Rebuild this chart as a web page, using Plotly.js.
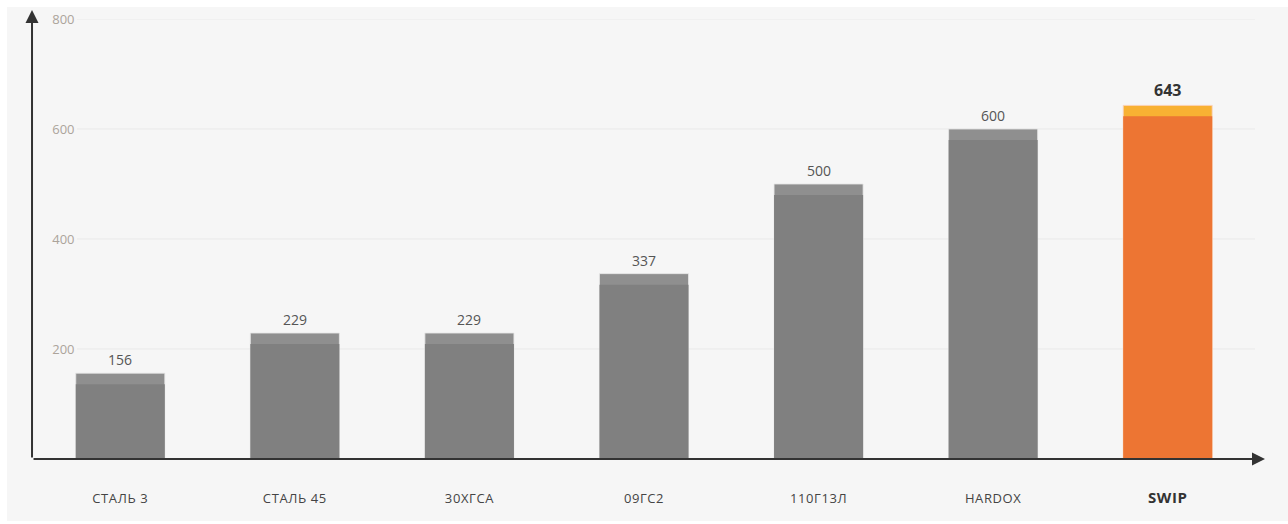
<!DOCTYPE html>
<html>
<head>
<meta charset="utf-8">
<script src="https://cdn.plot.ly/plotly-3.0.1.min.js"></script>
<style>
  html, body { margin: 0; padding: 0; background: #ffffff; }
  #chart { position: absolute; left: 7px; top: 7px; width: 1281px; height: 514px; }
  .xtick text { letter-spacing: 0.6px; }
</style>
</head>
<body>
<div id="chart"></div>
<script>
const categories = ["СТАЛЬ 3", "СТАЛЬ 45", "30ХГСА", "09ГС2", "110Г13Л", "HARDOX", "SWIP"];
const values = [156, 229, 229, 337, 500, 600, 643];
const yTicks = [200, 400, 600, 800];
const highlight = "SWIP";
const capSize = 20;

const isHi = categories.map(c => c === highlight);
const capColors = isHi.map(h => h ? "#f8b133" : "#8f8f8f");
const bodyColors = isHi.map(h => h ? "#ed7533" : "#808080");
const outline = isHi.map(h => h ? "rgba(250,215,200,0.9)" : "rgba(230,230,230,0.8)");

const tickText = categories.map(c => c === highlight
  ? '<span style="font-size:15px;font-weight:bold;color:#333333">' + c + '</span>'
  : c);

const traces = [
  {
    type: "bar", x: categories, y: values,
    marker: { color: capColors, line: { color: outline, width: 1 } },
    hoverinfo: "skip"
  },
  {
    type: "bar", x: categories, y: values.map(v => v - capSize),
    marker: { color: bodyColors, line: { width: 0 } },
    hoverinfo: "skip"
  }
];

const annotations = categories.map((c, i) => ({
  x: c, y: values[i], xref: "x", yref: "y",
  text: isHi[i] ? "<b>" + values[i] + "</b>" : String(values[i]),
  showarrow: false, yanchor: "bottom", yshift: 2,
  font: { family: "Open Sans", size: isHi[i] ? 16 : 14, color: isHi[i] ? "#333333" : "#555555" }
}));

// axis arrows
annotations.push({
  xref: "paper", yref: "paper", x: 1.0082, y: 0,
  axref: "pixel", ayref: "pixel", ax: -1233, ay: 0,
  showarrow: true, arrowhead: 2, arrowsize: 1.3, arrowwidth: 2, arrowcolor: "#333333",
  text: "", standoff: 0, startstandoff: 0
});
annotations.push({
  xref: "paper", yref: "paper", x: -0.0008, y: 1.0205,
  axref: "pixel", ayref: "pixel", ax: 0, ay: 449,
  showarrow: true, arrowhead: 2, arrowsize: 1.3, arrowwidth: 2, arrowcolor: "#333333",
  text: "", standoff: 0, startstandoff: 0
});

const shapes = yTicks.map(t => ({
  type: "line", xref: "paper", yref: "y", x0: 0.036, x1: 1, y0: t, y1: t,
  line: { color: "#e9e9e9", width: 1 }, layer: "below"
}));

const layout = {
  width: 1281, height: 514,
  margin: { l: 26, r: 33, t: 12, b: 62 },
  paper_bgcolor: "#f6f6f6", plot_bgcolor: "rgba(0,0,0,0)",
  barmode: "overlay", bargap: 0.49,
  showlegend: false,
  font: { family: "Open Sans", color: "#444444" },
  xaxis: {
    type: "category", range: [-0.5, categories.length - 0.5],
    tickvals: categories, ticktext: tickText,
    ticks: "outside", ticklen: 27, tickcolor: "rgba(0,0,0,0)",
    showgrid: false, zeroline: false, showline: false,
    tickfont: { family: "Open Sans", size: 13, color: "#444444" },
    fixedrange: true
  },
  yaxis: {
    range: [0, 800], tickvals: yTicks, ticktext: yTicks.map(String),
    anchor: "free", position: 0.034,
    showgrid: false, zeroline: false, showline: false, ticks: "",
    tickfont: { family: "Open Sans", size: 13, color: "#aca49b" },
    fixedrange: true
  },
  shapes: shapes,
  annotations: annotations
};

Plotly.newPlot("chart", traces, layout, { displayModeBar: false, staticPlot: true });
</script>
</body>
</html>
